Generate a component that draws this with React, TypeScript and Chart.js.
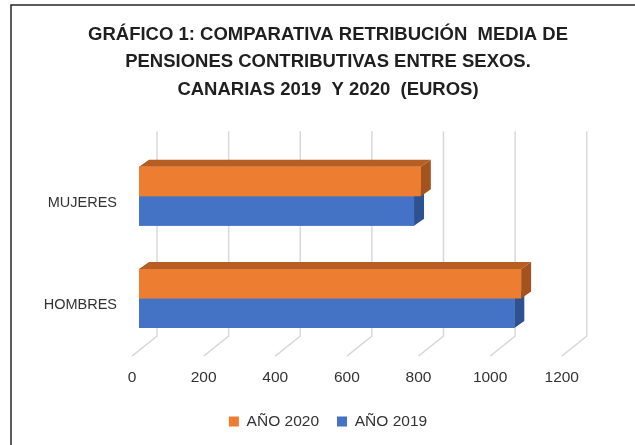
import React, { useEffect, useRef } from "react";
import { Chart, registerables } from "chart.js";

Chart.register(...registerables);

const categories = ["MUJERES", "HOMBRES"];
const seriesLabels = ["AÑO 2020", "AÑO 2019"];
const values2020 = [787, 1067];
const values2019 = [768, 1048];
const xTickValues = [0, 200, 400, 600, 800, 1000, 1200];
const titleLines = [
  "GRÁFICO 1: COMPARATIVA RETRIBUCIÓN  MEDIA DE",
  "PENSIONES CONTRIBUTIVAS ENTRE SEXOS.",
  "CANARIAS 2019  Y 2020  (EUROS)",
];

const FONT = "'Liberation Sans', Arial, sans-serif";
const frontColors = ["#ED7D31", "#4472C4"];
const topColors = ["#B65E24", "#3A63AE"];
const sideColors = ["#A3531D", "#2E5192"];

const DEPTH_X = 10;
const DEPTH_Y = -7;

const gridPlugin = {
  id: "grid3d",
  beforeDatasetsDraw(chart: any) {
    const ctx = chart.ctx;
    const xs = chart.scales.x;
    const { top, bottom } = chart.chartArea;
    ctx.save();
    ctx.strokeStyle = "#D9D9D9";
    ctx.lineWidth = 1.5;
    xTickValues.forEach((v) => {
      const xf = xs.getPixelForValue(v) - 7;
      const xb = xf + 25;
      ctx.beginPath();
      ctx.moveTo(xb, top - 14);
      ctx.lineTo(xb, bottom - 13.5);
      ctx.lineTo(xf, bottom + 6.5);
      ctx.stroke();
    });
    ctx.restore();
  },
};

const barPlugin = {
  id: "bars3d",
  afterDatasetsDraw(chart: any) {
    const ctx = chart.ctx;
    ctx.save();
    [1, 0].forEach((di) => {
      const meta = chart.getDatasetMeta(di);
      meta.data.forEach((bar: any) => {
        const { x, y, base, height } = bar.getProps(["x", "y", "base", "height"], true);
        const yTop = y - height / 2;
        const yBot = y + height / 2;
        const x0 = base;
        const x1 = x;
        ctx.fillStyle = topColors[di];
        ctx.beginPath();
        ctx.moveTo(x0, yTop);
        ctx.lineTo(x0 + DEPTH_X, yTop + DEPTH_Y);
        ctx.lineTo(x1 + DEPTH_X, yTop + DEPTH_Y);
        ctx.lineTo(x1, yTop);
        ctx.closePath();
        ctx.fill();
        ctx.fillStyle = sideColors[di];
        ctx.beginPath();
        ctx.moveTo(x1, yTop);
        ctx.lineTo(x1 + DEPTH_X, yTop + DEPTH_Y);
        ctx.lineTo(x1 + DEPTH_X, yBot + DEPTH_Y);
        ctx.lineTo(x1, yBot);
        ctx.closePath();
        ctx.fill();
        ctx.fillStyle = frontColors[di];
        ctx.fillRect(x0, yTop, x1 - x0, yBot - yTop);
      });
    });
    ctx.restore();
  },
};

const framePlugin = {
  id: "frame",
  afterDraw(chart: any) {
    const ctx = chart.ctx;
    ctx.save();
    ctx.strokeStyle = "#262626";
    ctx.lineWidth = 1.5;
    ctx.beginPath();
    ctx.moveTo(11, chart.height);
    ctx.lineTo(11, 5);
    ctx.lineTo(chart.width, 5);
    ctx.stroke();
    ctx.restore();
  },
};

export default function App() {
  const ref = useRef<HTMLCanvasElement>(null);
  useEffect(() => {
    if (!ref.current) return;
    const chart = new Chart(ref.current, {
      type: "bar",
      data: {
        labels: categories,
        datasets: [
          {
            label: seriesLabels[0],
            data: values2020,
            backgroundColor: frontColors[0],
            categoryPercentage: 0.575,
            barPercentage: 1,
          },
          {
            label: seriesLabels[1],
            data: values2019,
            backgroundColor: frontColors[1],
            categoryPercentage: 0.575,
            barPercentage: 1,
          },
        ],
      },
      options: {
        indexAxis: "y",
        animation: false,
        responsive: true,
        maintainAspectRatio: false,
        layout: { padding: { left: 21, right: 0, top: 0, bottom: 5.7 } },
        scales: {
          x: {
            min: 0,
            max: 1385,
            afterBuildTicks: (s: any) => {
              s.ticks = xTickValues.map((v) => ({ value: v }));
            },
            afterFit: (s: any) => {
              s.height = 46.2;
            },
            ticks: {
              padding: 19,
              labelOffset: -7,
              autoSkip: false,
              maxRotation: 0,
              color: "#333333",
              font: { family: FONT, size: 15.5 },
              callback: (v: any) => String(v),
            },
            grid: { display: false, drawTicks: false },
            border: { display: false },
          },
          y: {
            ticks: {
              labelOffset: 7,
              padding: 22,
              color: "#333333",
              font: { family: FONT, size: 14.5 },
            },
            grid: { display: false, drawTicks: false },
            border: { display: false },
            afterFit: (s: any) => {
              s.width = 118;
            },
          },
        },
        plugins: {
          title: {
            display: true,
            text: titleLines,
            color: "#1F1F1F",
            font: { family: FONT, size: 18.5, weight: "bold", lineHeight: 1.48 },
            padding: { top: 21, bottom: 42 },
          },
          legend: {
            position: "bottom",
            labels: {
              boxWidth: 10,
              boxHeight: 10,
              padding: 18,
              color: "#333333",
              font: { family: FONT, size: 15.5 },
            },
          },
          tooltip: { enabled: false },
        },
      },
      plugins: [gridPlugin, barPlugin, framePlugin],
    });
    return () => chart.destroy();
  }, []);
  return (
    <div style={{ position: "fixed", left: 0, top: 0, width: 635, height: 445, background: "#fff" }}>
      <canvas ref={ref} />
    </div>
  );
}
